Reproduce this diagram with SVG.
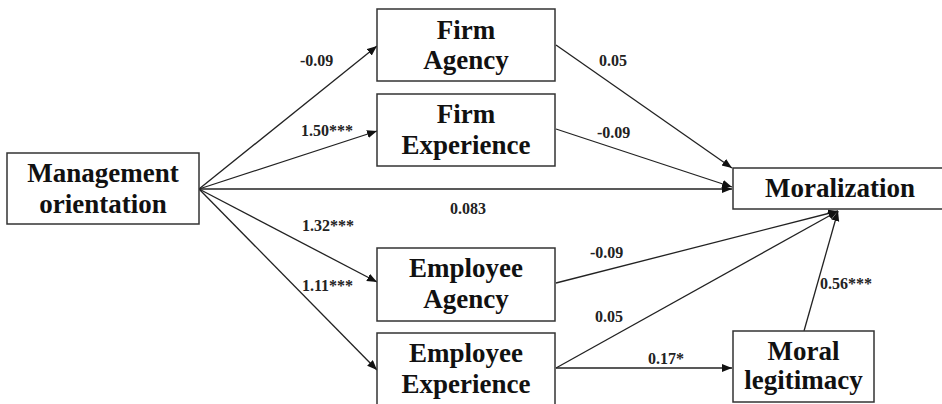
<svg xmlns="http://www.w3.org/2000/svg" width="942" height="404" viewBox="0 0 942 404">
<style>
.box{fill:#fff;stroke:#333;stroke-width:1.5}
text{font-family:'Liberation Serif','Times New Roman',Times,'DejaVu Serif',serif;font-weight:bold}
.nt{font-size:27px;fill:#111;text-anchor:middle}
.lb{font-size:16px;fill:#222}
.ln{stroke:#222;stroke-width:1.3;fill:none;marker-end:url(#ah)}
</style>
<defs>
<marker id="ah" markerUnits="userSpaceOnUse" markerWidth="11" markerHeight="9" refX="10" refY="4" orient="auto">
<path d="M0,0 L10,4 L0,8 z" fill="#111"/>
</marker>
</defs>
<rect width="942" height="404" fill="#fff"/>
<g id="connectors">
<line class="ln" x1="199" y1="189" x2="377" y2="46"/>
<line class="ln" x1="199" y1="189" x2="377" y2="131"/>
<line class="ln" x1="199" y1="189" x2="732" y2="189"/>
<line class="ln" x1="199" y1="189" x2="377" y2="282"/>
<line class="ln" x1="199" y1="189" x2="377" y2="370"/>
<line class="ln" x1="556" y1="45" x2="732" y2="168"/>
<line class="ln" x1="556" y1="129" x2="732" y2="187"/>
<line class="ln" x1="556" y1="283" x2="838" y2="211"/>
<line class="ln" x1="556" y1="368" x2="838" y2="211"/>
<line class="ln" x1="556" y1="368" x2="732" y2="368"/>
<line class="ln" x1="804" y1="331" x2="838" y2="211"/>
<text class="lb" x="300" y="66">-0.09</text>
<text class="lb" x="301" y="136">1.50***</text>
<text class="lb" x="450" y="214">0.083</text>
<text class="lb" x="302" y="231">1.32***</text>
<text class="lb" x="302" y="291">1.11***</text>
<text class="lb" x="599" y="66">0.05</text>
<text class="lb" x="597" y="138">-0.09</text>
<text class="lb" x="590" y="258">-0.09</text>
<text class="lb" x="595" y="322">0.05</text>
<text class="lb" x="648" y="364">0.17*</text>
<text class="lb" x="820" y="289">0.56***</text>
</g>
<g id="management">
<rect class="box" x="7" y="153" width="192" height="71"/>
<text class="nt" x="103" y="182">Management</text>
<text class="nt" x="103" y="213">orientation</text>
</g>
<g id="firm-agency">
<rect class="box" x="377" y="9" width="178" height="72"/>
<text class="nt" x="466" y="39">Firm</text>
<text class="nt" x="466" y="69">Agency</text>
</g>
<g id="firm-experience">
<rect class="box" x="377" y="94" width="178" height="72"/>
<text class="nt" x="466" y="123">Firm</text>
<text class="nt" x="466" y="154">Experience</text>
</g>
<g id="employee-agency">
<rect class="box" x="377" y="248" width="178" height="73"/>
<text class="nt" x="466" y="277">Employee</text>
<text class="nt" x="466" y="308">Agency</text>
</g>
<g id="employee-experience">
<rect class="box" x="377" y="333" width="178" height="72"/>
<text class="nt" x="466" y="362">Employee</text>
<text class="nt" x="466" y="393">Experience</text>
</g>
<g id="moralization">
<rect class="box" x="733" y="168" width="215" height="41"/>
<text class="nt" x="840" y="197">Moralization</text>
</g>
<g id="moral-legitimacy">
<rect class="box" x="733" y="331" width="141" height="71"/>
<text class="nt" x="803.5" y="360">Moral</text>
<text class="nt" x="803.5" y="389">legitimacy</text>
</g>
</svg>
